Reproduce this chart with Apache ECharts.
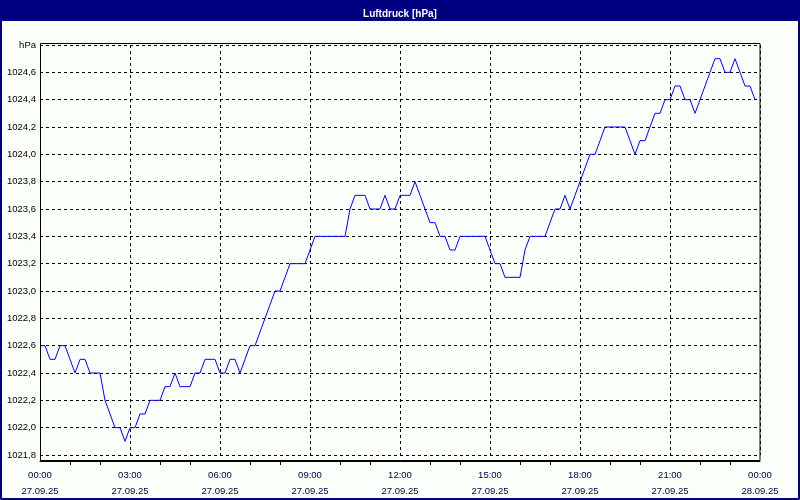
<!DOCTYPE html>
<html>
<head>
<meta charset="utf-8">
<script src="https://cdn.jsdelivr.net/npm/echarts@6/dist/echarts.min.js"></script>
<style>
html,body{margin:0;padding:0;background:#fafffa;}
#chart{width:800px;height:500px;}
</style>
</head>
<body>
<div id="chart"></div>
<script>
// 10-minute readings, 27.09.25 00:00 .. 23:50
const stepMinutes = 10;
const pressure = [
  1022.6,1022.6,1022.5,1022.5,1022.6,1022.6,1022.5,1022.4,1022.5,1022.5,
  1022.4,1022.4,1022.4,1022.2,1022.1,1022.0,1022.0,1021.9,1022.0,1022.0,
  1022.1,1022.1,1022.2,1022.2,1022.2,1022.3,1022.3,1022.4,1022.3,1022.3,
  1022.3,1022.4,1022.4,1022.5,1022.5,1022.5,1022.4,1022.4,1022.5,1022.5,
  1022.4,1022.5,1022.6,1022.6,1022.7,1022.8,1022.9,1023.0,1023.0,1023.1,
  1023.2,1023.2,1023.2,1023.2,1023.3,1023.4,1023.4,1023.4,1023.4,1023.4,
  1023.4,1023.4,1023.6,1023.7,1023.7,1023.7,1023.6,1023.6,1023.6,1023.7,
  1023.6,1023.6,1023.7,1023.7,1023.7,1023.8,1023.7,1023.6,1023.5,1023.5,
  1023.4,1023.4,1023.3,1023.3,1023.4,1023.4,1023.4,1023.4,1023.4,1023.4,
  1023.3,1023.2,1023.2,1023.1,1023.1,1023.1,1023.1,1023.3,1023.4,1023.4,
  1023.4,1023.4,1023.5,1023.6,1023.6,1023.7,1023.6,1023.7,1023.8,1023.9,
  1024.0,1024.0,1024.1,1024.2,1024.2,1024.2,1024.2,1024.2,1024.1,1024.0,
  1024.1,1024.1,1024.2,1024.3,1024.3,1024.4,1024.4,1024.5,1024.5,1024.4,
  1024.4,1024.3,1024.4,1024.5,1024.6,1024.7,1024.7,1024.6,1024.6,1024.7,
  1024.6,1024.5,1024.5,1024.4
];
const timeLabels = ['00:00','03:00','06:00','09:00','12:00','15:00','18:00','21:00','00:00'];
const dateLabels = ['27.09.25','27.09.25','27.09.25','27.09.25','27.09.25','27.09.25','27.09.25','27.09.25','28.09.25'];
const titleText = 'Luftdruck [hPa]';
const unitLabel = 'hPa';
const yMin = 1021.8, yMax = 1024.8, yStep = 0.2;

const seriesData = pressure.map((v, i) => [i * stepMinutes, v]);

const chart = echarts.init(document.getElementById('chart'), null, {renderer: 'canvas'});
const font = 'Liberation Sans';
chart.setOption({
  backgroundColor: '#fafffa',
  animation: false,
  title: {
    text: titleText,
    left: 'center',
    top: 4,
    textStyle: {color: '#ffffff', fontSize: 10, fontWeight: 'bold', fontFamily: font}
  },
  graphic: [
    {type: 'rect', z: -1, shape: {x: 0, y: 0, width: 800, height: 21}, style: {fill: '#000080'}},
    {type: 'rect', z: 100, shape: {x: 0.5, y: 0.5, width: 799, height: 499}, style: {fill: null, stroke: '#000080', lineWidth: 1}},
    {type: 'rect', z: 100, shape: {x: 1.5, y: 20.5, width: 797, height: 478}, style: {fill: null, stroke: '#000080', lineWidth: 1}},
    {type: 'rect', z: 50, shape: {x: 40.5, y: 43.5, width: 719.5, height: 417}, style: {fill: null, stroke: '#000', lineWidth: 1}}
  ],
  grid: {left: 40, right: 40, top: 45, bottom: 45, show: false},
  xAxis: {
    type: 'value',
    min: 0, max: 1440, interval: 180,
    offset: 6,
    axisLine: {show: true, lineStyle: {color: '#000'}},
    axisTick: {show: false},
    minorTick: {show: true, splitNumber: 3, length: 4, lineStyle: {color: '#000'}},
    splitLine: {show: true, lineStyle: {color: '#000', type: [3, 3], width: 1}},
    axisLabel: {
      margin: 6,
      fontFamily: font, fontSize: 9.5, color: '#000040', lineHeight: 16,
      formatter: function (v) {
        const k = Math.round(v / 180);
        return timeLabels[k] + '\n' + dateLabels[k];
      }
    }
  },
  yAxis: {
    type: 'value',
    min: yMin, max: yMax, interval: yStep,
    axisLine: {show: false},
    axisTick: {show: false},
    splitLine: {show: true, lineStyle: {color: '#000', type: [3, 3], width: 1}},
    axisLabel: {
      margin: 4,
      fontFamily: font, fontSize: 9.5, color: '#000',
      formatter: function (v) {
        if (v >= yMax - 0.01) return unitLabel;
        return v.toFixed(1).replace('.', ',');
      }
    }
  },
  series: [{
    type: 'line',
    data: seriesData,
    showSymbol: false,
    lineStyle: {color: '#0000ff', width: 1},
    itemStyle: {color: '#0000ff'},
    z: 10
  }]
});
</script>
</body>
</html>
